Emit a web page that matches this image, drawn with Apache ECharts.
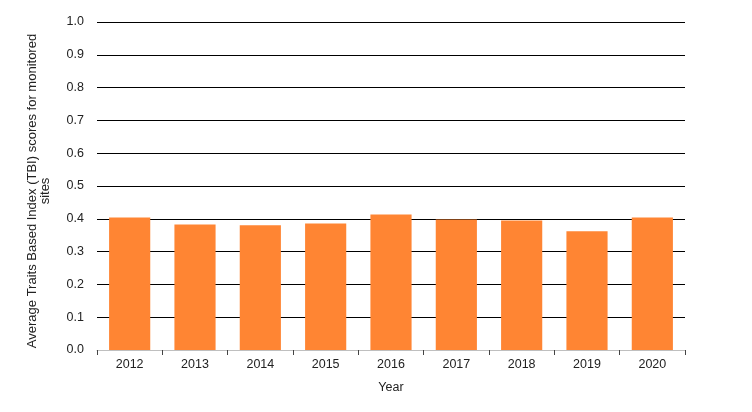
<!DOCTYPE html>
<html>
<head>
<meta charset="utf-8">
<script src="https://cdn.jsdelivr.net/npm/echarts@6/dist/echarts.min.js"></script>
<style>
  html, body { margin: 0; padding: 0; background: #fff; }
  #chart { width: 752px; height: 412px; }
</style>
</head>
<body>
<div id="chart"></div>
<script>
const years = ["2012", "2013", "2014", "2015", "2016", "2017", "2018", "2019", "2020"];
const tbiScores = [0.404, 0.383, 0.380, 0.386, 0.413, 0.398, 0.395, 0.362, 0.404];

const chart = echarts.init(document.getElementById("chart"));
const font = "Liberation Sans, Arial, sans-serif";

chart.setOption({
  animation: false,
  textStyle: { fontFamily: font },
  grid: { left: 97, right: 67, top: 22, bottom: 62 },
  xAxis: {
    type: "category",
    data: years,
    name: "Year",
    nameLocation: "middle",
    nameGap: 31,
    nameTextStyle: { color: "#222", fontSize: 12.5, fontFamily: font },
    axisLine: { lineStyle: { color: "#bfbfbf" } },
    axisTick: { show: true, alignWithLabel: false, length: 5, lineStyle: { color: "#444" } },
    axisLabel: { color: "#222", fontSize: 12.5, margin: 8, fontFamily: font }
  },
  yAxis: {
    type: "value",
    min: 0,
    max: 1,
    interval: 0.1,
    name: "Average Traits Based Index (TBI) scores for monitored\nsites",
    nameLocation: "middle",
    nameGap: 45,
    nameTextStyle: {
      color: "#222", fontSize: 13, lineHeight: 13, fontFamily: font,
      padding: [0, 10, 0, 0]
    },
    axisLine: { show: false },
    axisTick: { show: false },
    axisLabel: {
      color: "#222",
      fontSize: 12.5,
      margin: 13,
      fontFamily: font,
      formatter: v => v.toFixed(1)
    },
    splitLine: { lineStyle: { color: "#000", width: 1 } }
  },
  series: [{
    type: "bar",
    data: tbiScores,
    barCategoryGap: "37%",
    itemStyle: { color: "#ff8533" }
  }]
});
</script>
</body>
</html>
